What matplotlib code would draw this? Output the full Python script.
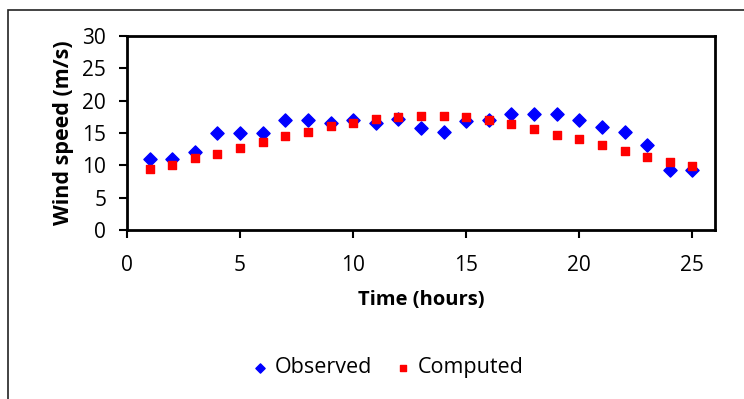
import matplotlib
matplotlib.use("Agg")
import matplotlib.pyplot as plt
from matplotlib.patches import Rectangle

plt.rcParams['font.family'] = ['Open Sans', 'DejaVu Sans']

# data
hours = list(range(1, 26))
observed = [11.0, 11.0, 12.0, 15.0, 15.0, 15.0, 17.0, 17.0, 16.5, 17.0,
            16.5, 17.1, 15.8, 15.1, 16.8, 17.0, 17.9, 17.9, 17.9, 17.0,
            16.0, 15.1, 13.2, 9.3, 9.3]
computed = [9.5, 10.1, 11.1, 11.7, 12.7, 13.6, 14.5, 15.2, 16.1, 16.6,
            17.2, 17.4, 17.7, 17.7, 17.4, 17.0, 16.4, 15.6, 14.7, 14.1,
            13.1, 12.2, 11.3, 10.5, 9.9]
x_ticks = [0, 5, 10, 15, 20, 25]
y_ticks = [0, 5, 10, 15, 20, 25, 30]

fig = plt.figure(figsize=(7.44, 3.99), dpi=100)
ax = fig.add_axes([0.1707, 0.4236, 0.7903, 0.4862])

ax.scatter(hours, observed, marker='D', s=45, color='#0000ff', label='Observed', zorder=3)
ax.scatter(hours, computed, marker='s', s=40, color='#ff0000', label='Computed', zorder=3)

ax.set_xlim(0, 26)
ax.set_ylim(0, 30)
ax.set_xticks(x_ticks)
ax.set_yticks(y_ticks)
ax.tick_params(direction='out', length=6, width=1.5, labelsize=15)
ax.tick_params(axis='x', pad=12)
ax.tick_params(axis='y', pad=9)
for sp in ax.spines.values():
    sp.set_linewidth(2)

ax.set_xlabel('Time (hours)', fontsize=14.5, fontweight='bold', labelpad=10)
ax.set_ylabel('Wind speed (m/s)', fontsize=15.5, fontweight='bold', labelpad=6)

ax.legend(loc='center', bbox_to_anchor=(0.518, 0.0777), bbox_transform=fig.transFigure,
          ncol=2, frameon=False, fontsize=15.5, handletextpad=0.1, columnspacing=0.8,
          markerscale=0.7, handlelength=1.2)

# outer chart frame (cut off on the right and bottom in the reference)
fig.patches.append(Rectangle((8 / 744, -0.05), 1.0, 1 - 10 / 399 + 0.05,
                             transform=fig.transFigure, fill=False,
                             edgecolor='#222222', linewidth=1.2))

fig.savefig('out.png', dpi=100)
